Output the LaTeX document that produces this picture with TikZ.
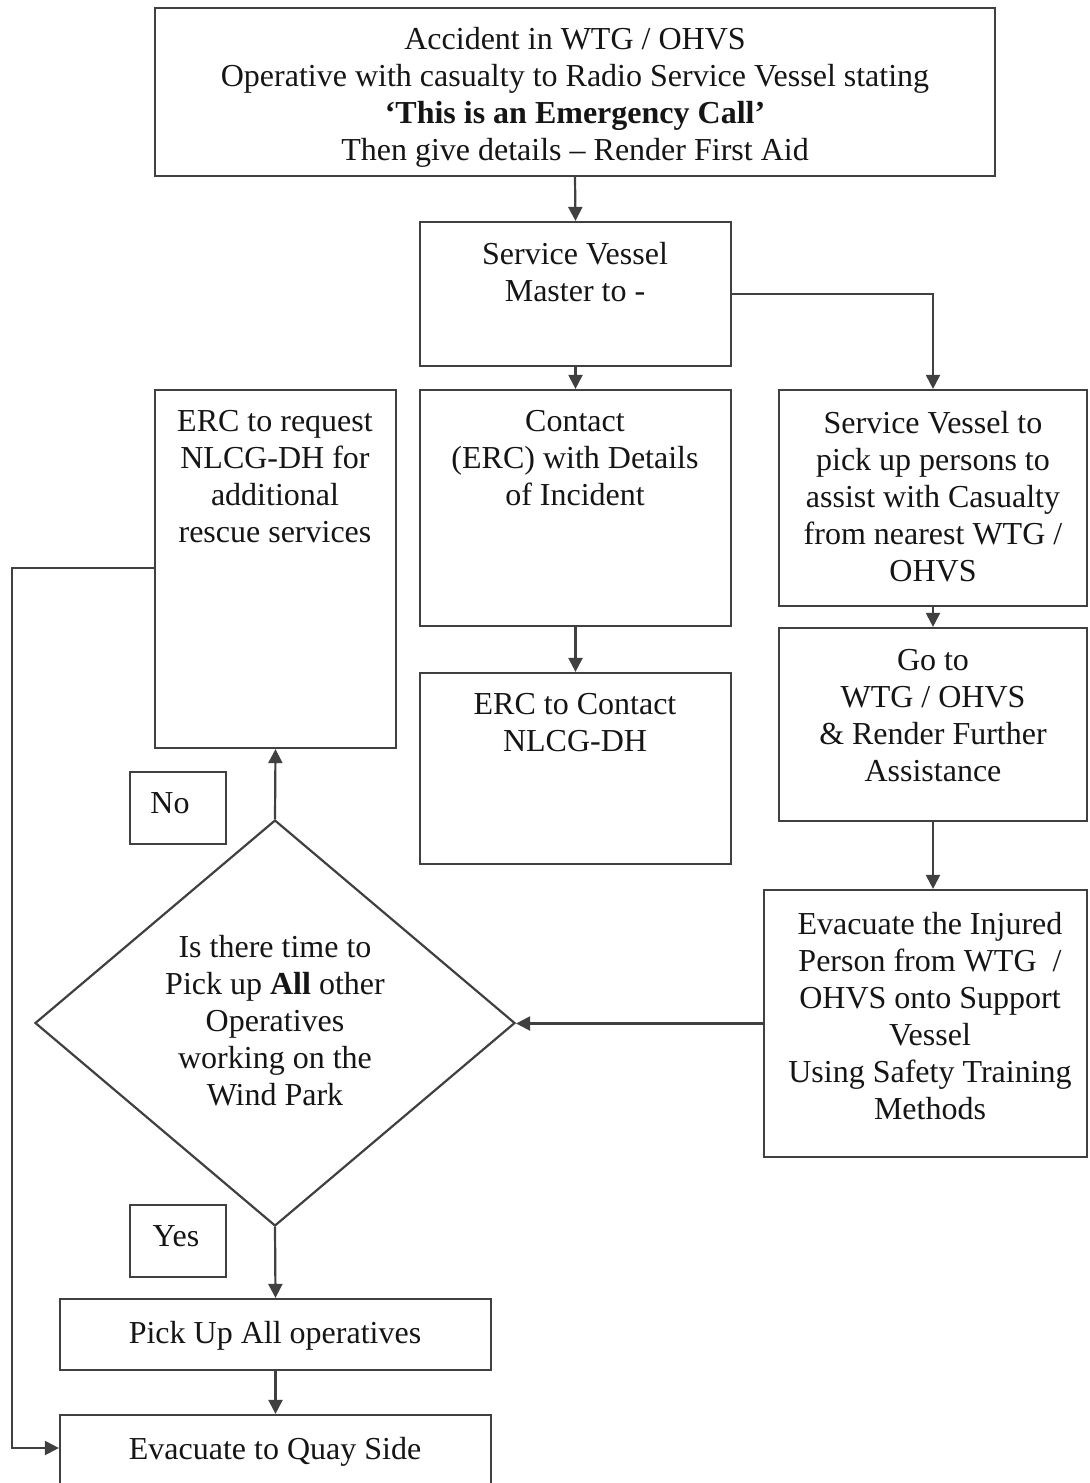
\documentclass[tikz,border=0pt]{standalone}
\usepackage{fontspec}
\setmainfont{Liberation Serif}
\usetikzlibrary{shapes.geometric,arrows.meta,fit}
\definecolor{linec}{HTML}{404040}
\definecolor{txtc}{HTML}{151515}
\begin{document}
\begin{tikzpicture}[x=0.5pt,y=-0.5pt,
 box/.style={draw=linec, line width=1.1pt, inner sep=0pt, rectangle},
 txt/.style={align=center, inner sep=0pt, anchor=north, font=\fontsize{16}{18.5}\selectfont, text=txtc},
 arr/.style={draw=linec, line width=1.1pt, -{Triangle[length=7pt,width=7pt]}},
 plain/.style={draw=linec, line width=1.1pt}
 ]
\useasboundingbox (0,0) rectangle (1089,1483);
\clip (0,0) rectangle (1089,1483);
\fill[white] (0,0) rectangle (1089,1483);

% boxes
\node[box, fit={(155,8) (995,176)}] (top) {};
\node[box, fit={(420,222) (731,366)}] (sv) {};
\node[box, fit={(420,390) (731,626)}] (contact) {};
\node[box, fit={(420,673) (731,864)}] (erc) {};
\node[box, fit={(155,390) (396,748)}] (req) {};
\node[box, fit={(779,390) (1087,606)}] (pick) {};
\node[box, fit={(779,628) (1087,821)}] (goto) {};
\node[box, fit={(764,890) (1087,1157)}] (evac) {};
\node[box, fit={(130,772) (226,844)}] (nobox) {};
\node[box, fit={(130,1205) (226,1277)}] (yesbox) {};
\node[box, fit={(60,1299) (491,1370)}] (pickup) {};
\node[box, fit={(60,1415) (491,1510)}] (quay) {};
\node[draw=linec, line width=1.1pt, diamond, minimum width=240pt, minimum height=203pt, inner sep=0pt] (dia) at (275,1023) {};

% texts
\node[txt] (ttop) at (575,27) {Accident in WTG / OHVS\\Operative with casualty to Radio Service Vessel stating\\\textbf{‘This is an Emergency Call’}\\Then give details – Render First Aid};
\node[txt] (tsv) at (575,242) {Service Vessel\\Master to -};
\node[txt] (tcontact) at (575,410) {Contact\\(ERC) with Details\\of Incident};
\node[txt] (terc) at (575,693) {ERC to Contact\\NLCG-DH};
\node[txt] (treq) at (275,410) {ERC to request\\NLCG-DH for\\additional\\rescue services};
\node[txt] (tpick) at (933,411) {Service Vessel to\\pick up persons to\\assist with Casualty\\from nearest WTG /\\OHVS};
\node[txt] (tgoto) at (933,649) {Go to\\WTG / OHVS\\\& Render Further\\Assistance};
\node[txt] (tevac) at (930,912) {Evacuate the Injured\\Person from WTG \ /\\OHVS onto Support\\Vessel\\Using Safety Training\\Methods};
\node[txt] (tdia) at (275,935) {Is there time to\\Pick up \textbf{All} other\\Operatives\\working on the\\Wind Park};
\node[txt] (tpickup) at (275,1321) {Pick Up All operatives};
\node[txt] (tquay) at (275,1437) {Evacuate to Quay Side};
\node[txt] (tno) at (170,792) {No};
\node[txt] (tyes) at (176,1225) {Yes};

% connectors
\coordinate (c1) at (12,568);
\coordinate (c2) at (12,1448);
\draw[arr] (top.south) -- (sv.north);
\draw[arr] (sv.east) -| (pick.north);
\draw[arr] (sv.south) -- (contact.north);
\draw[arr] (contact.south) -- (erc.north);
\draw[arr] (pick.south) -- (goto.north);
\draw[arr] (goto.south) -- (goto.south |- evac.north);
\draw[arr] (evac.west) -- (evac.west -| dia.east);
\draw[arr] (dia.north) -- (req.south);
\draw[arr] (dia.south) -- (pickup.north);
\draw[arr] (pickup.south) -- (quay.north);
\draw[arr] (req.west |- c1) -- (c1) -- (c2) -- (c2 -| quay.west);
\end{tikzpicture}
\end{document}
